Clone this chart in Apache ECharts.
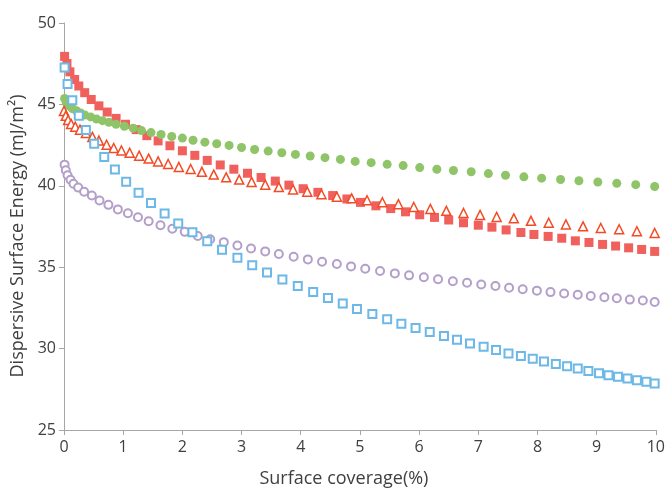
<!DOCTYPE html>
<html>
<head>
<meta charset="utf-8">
<script src="https://cdn.jsdelivr.net/npm/echarts@6/dist/echarts.min.js"></script>
<style>
  html, body { margin: 0; padding: 0; background: #fff; }
  #chart { width: 668px; height: 493px; }
</style>
</head>
<body>
<div id="chart"></div>
<script>
// values
const redX = [0.01, 0.05, 0.10, 0.18, 0.25, 0.35, 0.46, 0.59, 0.73, 0.88, 1.04, 1.22, 1.40, 1.59, 1.79, 2.00, 2.21, 2.42, 2.64, 2.87, 3.10, 3.33, 3.57, 3.80, 4.04, 4.29, 4.54, 4.78, 5.01, 5.27, 5.52, 5.77, 6.01, 6.26, 6.50, 6.75, 7.00, 7.23, 7.47, 7.72, 7.94, 8.18, 8.41, 8.64, 8.87, 9.10, 9.32, 9.54, 9.76, 9.98]
const redY = [47.95, 47.51, 47.00, 46.53, 46.13, 45.72, 45.30, 44.91, 44.53, 44.14, 43.78, 43.45, 43.08, 42.76, 42.46, 42.15, 41.87, 41.56, 41.28, 41.02, 40.77, 40.51, 40.29, 40.04, 39.82, 39.60, 39.40, 39.19, 38.98, 38.77, 38.60, 38.40, 38.22, 38.06, 37.90, 37.73, 37.58, 37.46, 37.29, 37.13, 37.01, 36.89, 36.78, 36.62, 36.52, 36.40, 36.30, 36.19, 36.09, 35.97]

const greenX = [0.01, 0.04, 0.08, 0.14, 0.21, 0.28, 0.35, 0.45, 0.55, 0.65, 0.76, 0.88, 1.02, 1.17, 1.31, 1.47, 1.64, 1.82, 2.00, 2.18, 2.38, 2.58, 2.79, 3.00, 3.22, 3.45, 3.68, 3.91, 4.16, 4.41, 4.67, 4.92, 5.19, 5.46, 5.73, 6.01, 6.30, 6.58, 6.88, 7.17, 7.46, 7.77, 8.07, 8.39, 8.70, 9.02, 9.34, 9.66, 9.98]
const greenY = [45.36, 45.12, 44.91, 44.75, 44.61, 44.47, 44.35, 44.23, 44.10, 44.00, 43.90, 43.78, 43.66, 43.54, 43.39, 43.27, 43.15, 43.03, 42.93, 42.80, 42.68, 42.58, 42.48, 42.35, 42.23, 42.13, 42.03, 41.93, 41.83, 41.73, 41.62, 41.50, 41.42, 41.32, 41.24, 41.12, 41.02, 40.94, 40.86, 40.75, 40.65, 40.55, 40.47, 40.39, 40.31, 40.23, 40.15, 40.07, 39.96]

const triX = [0.00, 0.03, 0.07, 0.12, 0.19, 0.27, 0.37, 0.48, 0.59, 0.72, 0.84, 0.97, 1.11, 1.27, 1.43, 1.59, 1.76, 1.94, 2.14, 2.33, 2.53, 2.74, 2.96, 3.17, 3.40, 3.63, 3.87, 4.11, 4.35, 4.61, 4.86, 5.12, 5.38, 5.65, 5.91, 6.19, 6.46, 6.75, 7.03, 7.31, 7.60, 7.89, 8.19, 8.48, 8.77, 9.07, 9.38, 9.68, 9.98]
const triY = [44.60, 44.30, 44.04, 43.80, 43.63, 43.45, 43.25, 43.00, 42.78, 42.52, 42.32, 42.17, 42.03, 41.85, 41.67, 41.50, 41.34, 41.16, 41.03, 40.86, 40.69, 40.52, 40.38, 40.24, 40.07, 39.92, 39.78, 39.64, 39.48, 39.33, 39.23, 39.11, 38.99, 38.87, 38.70, 38.58, 38.46, 38.33, 38.21, 38.09, 38.00, 37.85, 37.73, 37.63, 37.51, 37.41, 37.33, 37.21, 37.10]

const purpleX = [0.01, 0.03, 0.06, 0.11, 0.16, 0.24, 0.34, 0.47, 0.60, 0.75, 0.91, 1.08, 1.25, 1.43, 1.63, 1.83, 2.04, 2.26, 2.47, 2.70, 2.93, 3.16, 3.40, 3.63, 3.88, 4.12, 4.36, 4.61, 4.85, 5.09, 5.34, 5.59, 5.83, 6.08, 6.32, 6.57, 6.81, 7.05, 7.29, 7.52, 7.75, 7.99, 8.22, 8.45, 8.68, 8.90, 9.13, 9.34, 9.56, 9.78, 9.98]
const purpleY = [41.30, 40.96, 40.65, 40.37, 40.13, 39.89, 39.64, 39.40, 39.10, 38.83, 38.55, 38.31, 38.07, 37.82, 37.58, 37.36, 37.17, 36.92, 36.72, 36.54, 36.33, 36.15, 35.97, 35.81, 35.64, 35.48, 35.34, 35.20, 35.05, 34.91, 34.77, 34.62, 34.50, 34.38, 34.26, 34.14, 34.04, 33.94, 33.84, 33.74, 33.65, 33.56, 33.47, 33.39, 33.31, 33.23, 33.15, 33.09, 33.01, 32.95, 32.86]

const blueX = [0.01, 0.06, 0.14, 0.25, 0.37, 0.51, 0.68, 0.86, 1.05, 1.26, 1.47, 1.70, 1.93, 2.17, 2.42, 2.67, 2.93, 3.18, 3.43, 3.69, 3.95, 4.21, 4.46, 4.71, 4.95, 5.21, 5.46, 5.70, 5.94, 6.18, 6.42, 6.64, 6.86, 7.09, 7.30, 7.51, 7.72, 7.92, 8.11, 8.31, 8.50, 8.68, 8.86, 9.04, 9.20, 9.36, 9.52, 9.68, 9.84, 9.98]
const blueY = [47.26, 46.25, 45.26, 44.30, 43.43, 42.58, 41.77, 41.00, 40.25, 39.58, 38.95, 38.30, 37.69, 37.14, 36.60, 36.07, 35.58, 35.12, 34.67, 34.25, 33.84, 33.48, 33.11, 32.77, 32.43, 32.12, 31.81, 31.53, 31.27, 31.02, 30.78, 30.55, 30.31, 30.11, 29.91, 29.70, 29.54, 29.38, 29.20, 29.06, 28.91, 28.77, 28.63, 28.49, 28.36, 28.27, 28.16, 28.06, 27.96, 27.86]

const xTitle = 'Surface coverage(%)'
const yTitle = 'Dispersive Surface Energy (mJ/m²)'

const zip = (xs, ys) => xs.map((x, i) => [x, ys[i]])

const chart = echarts.init(document.getElementById('chart'))

const axisLine = { lineStyle: { color: '#a6a6a6', width: 1 } }
const axisLabel = { color: '#404040', fontSize: 16, fontFamily: 'Open Sans' }
const nameStyle = { color: '#404040', fontSize: 18, fontFamily: 'Open Sans' }

chart.setOption({
  animation: false,
  grid: { left: 64, right: 12, top: 23, bottom: 59, containLabel: false },
  xAxis: {
    type: 'value',
    min: 0,
    max: 10,
    interval: 1,
    axisLine: axisLine,
    axisTick: { show: true, length: 5, lineStyle: { color: '#a6a6a6' } },
    axisLabel: { ...axisLabel, margin: 9 },
    splitLine: { show: false },
    name: xTitle,
    nameLocation: 'middle',
    nameGap: 40,
    nameTextStyle: { ...nameStyle, padding: [0, 32, 0, 0] },
  },
  yAxis: {
    type: 'value',
    min: 25,
    max: 50,
    interval: 5,
    axisLine: { show: true, ...axisLine },
    axisTick: { show: true, length: 5, lineStyle: { color: '#a6a6a6' } },
    axisLabel: { ...axisLabel, margin: 8 },
    splitLine: { show: false },
    name: yTitle,
    nameLocation: 'middle',
    nameGap: 29,
    nameTextStyle: { ...nameStyle, padding: [0, 19, 0, 0] },
  },
  series: [
    {
      type: 'scatter',
      data: zip(redX, redY),
      symbol: 'rect',
      symbolSize: 9,
      itemStyle: { color: '#f0605c', opacity: 1 },
    },
    {
      type: 'scatter',
      data: zip(greenX, greenY),
      symbol: 'circle',
      symbolSize: 9,
      itemStyle: { color: '#8fc469', opacity: 1 },
    },
    {
      type: 'scatter',
      data: zip(triX, triY),
      symbol: 'triangle',
      symbolSize: 9,
      itemStyle: { color: '#ffffff', borderColor: '#f24c26', borderWidth: 1.5, opacity: 1 },
    },
    {
      type: 'scatter',
      data: zip(purpleX, purpleY),
      symbol: 'circle',
      symbolSize: 8,
      itemStyle: { color: '#ffffff', borderColor: '#b39fcb', borderWidth: 2, opacity: 1 },
    },
    {
      type: 'scatter',
      data: zip(blueX, blueY),
      symbol: 'rect',
      symbolSize: 8,
      itemStyle: { color: '#ffffff', borderColor: '#6cb8e6', borderWidth: 2, opacity: 1 },
    },
  ],
})
</script>
</body>
</html>
